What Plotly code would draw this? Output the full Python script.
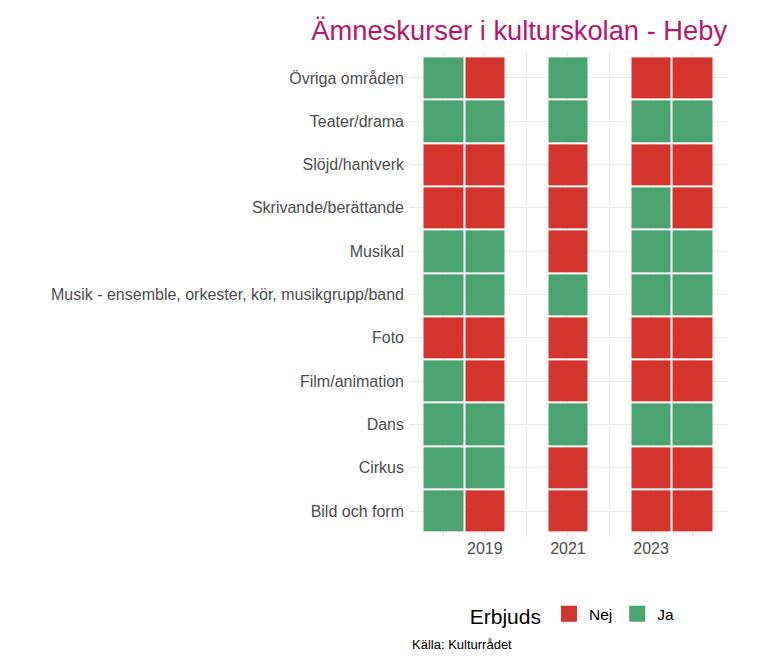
import plotly.graph_objects as go

# Categories (bottom to top)
categories = [
    "Bild och form", "Cirkus", "Dans", "Film/animation", "Foto",
    "Musik - ensemble, orkester, kör, musikgrupp/band", "Musikal",
    "Skrivande/berättande", "Slöjd/hantverk", "Teater/drama", "Övriga områden",
]
years = [2018, 2019, 2020, 2021, 2022, 2023, 2024]
tick_years = [2019, 2021, 2023]

# Offered (Ja/Nej) per year, in category order; None = no data
y2018 = ["Ja", "Ja", "Ja", "Ja", "Nej", "Ja", "Ja", "Nej", "Nej", "Ja", "Ja"]
y2019 = ["Nej", "Ja", "Ja", "Nej", "Nej", "Ja", "Ja", "Nej", "Nej", "Ja", "Nej"]
y2020 = [None] * 11
y2021 = ["Nej", "Nej", "Ja", "Nej", "Nej", "Ja", "Nej", "Nej", "Nej", "Ja", "Ja"]
y2022 = [None] * 11
y2023 = ["Nej", "Nej", "Ja", "Nej", "Nej", "Ja", "Ja", "Ja", "Nej", "Ja", "Nej"]
y2024 = ["Nej", "Nej", "Ja", "Nej", "Nej", "Ja", "Ja", "Nej", "Nej", "Ja", "Nej"]

levels = ["Nej", "Ja"]
RED = "#D3352C"
GREEN = "#4AA371"

cols = [y2018, y2019, y2020, y2021, y2022, y2023, y2024]
z = []
for i in range(len(categories)):
    row = []
    for c in cols:
        v = c[i]
        row.append(None if v is None else levels.index(v))
    z.append(row)

fig = go.Figure()
fig.add_trace(go.Heatmap(
    x=years, y=categories, z=z, zmin=0, zmax=1,
    colorscale=[[0, RED], [0.5, RED], [0.5, GREEN], [1, GREEN]],
    showscale=False, xgap=2, ygap=2, hoverongaps=False,
))
for lvl, col in zip(levels, [RED, GREEN]):
    fig.add_trace(go.Scatter(
        x=[None], y=[None], mode="markers", name=lvl,
        marker=dict(symbol="square", size=20, color=col, line=dict(width=0)),
    ))

grid = "#EBEBEB"
fig.update_layout(
    width=760, height=664,
    margin=dict(l=402, r=40, t=44, b=135, autoexpand=False),
    paper_bgcolor="white", plot_bgcolor="white",
    font=dict(family="Liberation Sans, Arial, sans-serif", color="#4D4D4D", size=16),
    title=dict(
        text="Ämneskurser i kulturskolan - Heby",
        x=0.997, xanchor="right", xref="paper", y=0.966, yanchor="middle",
        font=dict(size=27.3, color="#B5176E"),
    ),
    showlegend=True,
    legend=dict(
        orientation="h", x=0.515, xanchor="center", y=-0.163, yanchor="middle",
        title=dict(text="Erbjuds", font=dict(size=21, color="black")),
        font=dict(size=15.5, color="black"),
    ),
    xaxis=dict(
        range=[2017.2, 2024.85], tickvals=tick_years, ticktext=[str(t) for t in tick_years],
        showgrid=True, gridcolor=grid, gridwidth=1.2, zeroline=False, showline=False,
        ticks="", minor=dict(tick0=2018, dtick=1, showgrid=True, gridcolor=grid, gridwidth=1),
        tickfont=dict(size=16, color="#4D4D4D"),
    ),
    yaxis=dict(
        type="category", categoryorder="array", categoryarray=categories,
        range=[-0.6, 10.6], showgrid=True, gridcolor=grid, gridwidth=1.2,
        zeroline=False, showline=False, ticks="", ticklabelstandoff=5,
        tickfont=dict(size=16, color="#4D4D4D"),
    ),
    annotations=[dict(
        text="Källa: Kulturrådet", xref="paper", yref="paper", x=0, xanchor="left",
        y=-0.222, yanchor="middle", showarrow=False, font=dict(size=13, color="black"),
    )],
)

fig.write_html("out.html")
